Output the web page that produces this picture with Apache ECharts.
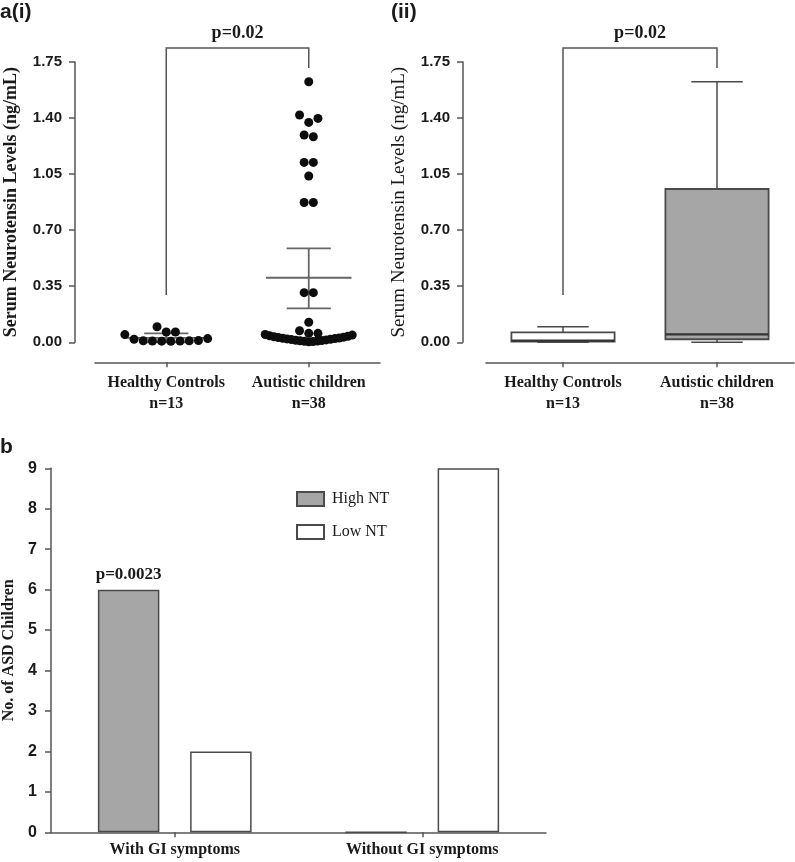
<!DOCTYPE html>
<html>
<head>
<meta charset="utf-8">
<script src="https://cdn.jsdelivr.net/npm/echarts@6/dist/echarts.min.js"></script>
<style>html,body{margin:0;padding:0;background:#fff}#c{width:795px;height:862px}</style>
</head>
<body>
<div id="c"></div>
<script>
// ---------- data ----------
const groupNames = ['Healthy Controls', 'Autistic children'];
const groupN = ['n=13', 'n=38'];
const ntAxisMin = 0, ntAxisMax = 1.75, ntAxisStep = 0.35;
const hcValues = [0.006, 0.007, 0.008, 0.008, 0.009, 0.010, 0.011, 0.019, 0.023, 0.048, 0.064, 0.064, 0.097];
const asdValues = [1.627, 1.419, 1.398, 1.373, 1.294, 1.283, 1.123, 1.123, 1.038, 0.873, 0.873, 0.310, 0.310,
  0.125, 0.072, 0.056, 0.056,
  0.049, 0.045, 0.041, 0.038, 0.035, 0.032, 0.030, 0.027, 0.025, 0.023, 0.021,
  0.019, 0.017, 0.015, 0.013, 0.011, 0.010, 0.008, 0.006, 0.005, 0.003];
const meanValues = [0.028, 0.403];
const semLower = [0.000, 0.212];
const semUpper = [0.056, 0.587];
// box: min, Q1, median, Q3, max
const boxHC = [0.000, 0.005, 0.010, 0.062, 0.097];
const boxASD = [0.000, 0.019, 0.050, 0.957, 1.627];
const pLabelA = 'p=0.02';
const bracketEnds = [0.295, 1.837, 1.712]; // left end, top, right end
const giCategories = ['With GI symptoms', 'Without GI symptoms'];
const highNT = [6, 0];
const lowNT = [2, 9];
const pLabelB = 'p=0.0023';
const countAxisMax = 9;

// ---------- styles ----------
const SERIF = '"Liberation Serif", "Times New Roman", serif';
const SANS = '"Liberation Sans", Arial, sans-serif';
const TXT = '#1a1a1a';
const AX = '#555';
const GRAY = '#a6a6a6';

// ---------- dot-plot layout (symmetric spreading inside value clusters) ----------
function swarm(values, spanLimit, gapLimit, step, maxWidth) {
  const order = values.map((v, i) => i).sort((a, b) => values[a] - values[b]);
  const clusters = []; let cur = [];
  order.forEach(i => {
    if (cur.length) {
      const first = values[cur[0]], last = values[cur[cur.length - 1]];
      if (values[i] - first > spanLimit || values[i] - last > gapLimit) { clusters.push(cur); cur = []; }
    }
    cur.push(i);
  });
  if (cur.length) clusters.push(cur);
  const off = new Array(values.length).fill(0);
  clusters.forEach(c => {
    const n = c.length;
    const s = n > 1 ? Math.min(step, maxWidth / (n - 1)) : 0;
    const slots = [];
    for (let k = 0; k < n; k++) slots.push(k - (n - 1) / 2);
    slots.sort((a, b) => Math.abs(a) - Math.abs(b) || b - a);
    c.forEach((idx, j) => { off[idx] = slots[j] * s; });
  });
  return off;
}
const offHC = swarm(hcValues, 0.05, 0.04, 9.2, 87);
const offASD = swarm(asdValues, 0.05, 0.04, 9.2, 87);
const dotData = hcValues.map((v, i) => ({ value: [0, v], symbolOffset: [offHC[i], 0] }))
  .concat(asdValues.map((v, i) => ({ value: [1, v], symbolOffset: [offASD[i], 0] })));

const meanData = meanValues.map((m, i) => [i, m, semLower[i], semUpper[i]]);
const boxData = [[0].concat(boxHC), [1].concat(boxASD)];
const boxFills = ['#ffffff', GRAY];
const bracketData = [[0, bracketEnds[1], 1, bracketEnds[0], bracketEnds[2]]];

// ---------- render helpers ----------
function renderMean(params, api) {
  const x = api.value(0);
  const band = api.size([1, 0])[0];
  const pm = api.coord([x, api.value(1)]);
  const pl = api.coord([x, api.value(2)]);
  const ph = api.coord([x, api.value(3)]);
  const mw = band * 0.3, cw = band * 0.155;
  const st = { stroke: '#666', lineWidth: 1.8 };
  return { type: 'group', children: [
    { type: 'line', shape: { x1: pm[0] - mw, y1: pm[1], x2: pm[0] + mw, y2: pm[1] }, style: st },
    { type: 'line', shape: { x1: pl[0], y1: pl[1], x2: ph[0], y2: ph[1] }, style: st },
    { type: 'line', shape: { x1: ph[0] - cw, y1: ph[1], x2: ph[0] + cw, y2: ph[1] }, style: st },
    { type: 'line', shape: { x1: pl[0] - cw, y1: pl[1], x2: pl[0] + cw, y2: pl[1] }, style: st }
  ] };
}
function renderBox(params, api) {
  const x = api.value(0);
  const band = api.size([1, 0])[0];
  const bw = band * 0.335, cw = band * 0.167;
  const pMin = api.coord([x, api.value(1)]), pQ1 = api.coord([x, api.value(2)]);
  const pMed = api.coord([x, api.value(3)]), pQ3 = api.coord([x, api.value(4)]);
  const pMax = api.coord([x, api.value(5)]);
  const cx = pMin[0];
  const st = { stroke: '#4a4a4a', lineWidth: 1.5 };
  return { type: 'group', children: [
    { type: 'line', shape: { x1: cx, y1: pQ3[1], x2: cx, y2: pMax[1] }, style: st },
    { type: 'line', shape: { x1: cx, y1: pQ1[1], x2: cx, y2: pMin[1] }, style: st },
    { type: 'line', shape: { x1: cx - cw, y1: pMax[1], x2: cx + cw, y2: pMax[1] }, style: st },
    { type: 'line', shape: { x1: cx - cw, y1: pMin[1], x2: cx + cw, y2: pMin[1] }, style: st },
    { type: 'rect', shape: { x: cx - bw, y: pQ3[1], width: bw * 2, height: pQ1[1] - pQ3[1] },
      style: { fill: boxFills[params.dataIndex], stroke: '#4a4a4a', lineWidth: 1.8 } },
    { type: 'line', shape: { x1: cx - bw, y1: pMed[1], x2: cx + bw, y2: pMed[1] }, style: { stroke: '#333', lineWidth: 2.2 } }
  ] };
}
function renderBracket(params, api) {
  const top = api.value(1);
  const pL = api.coord([api.value(0), api.value(3)]);
  const pLT = api.coord([api.value(0), top]);
  const pR = api.coord([api.value(2), api.value(4)]);
  const pRT = api.coord([api.value(2), top]);
  return { type: 'group', children: [
    { type: 'polyline', shape: { points: [pL, pLT, pRT, pR] }, style: { stroke: AX, lineWidth: 1.5, fill: null } },
    { type: 'text', x: (pLT[0] + pRT[0]) / 2, y: pLT[1] - 15,
      style: { text: pLabelA, fill: TXT, font: 'bold 18px ' + SERIF, align: 'center', verticalAlign: 'middle' } }
  ] };
}

function ntYAxis(gridIndex, offset, nameGap, nameWeight, nameSize) {
  return {
    type: 'value', gridIndex: gridIndex, min: ntAxisMin, max: ntAxisMax, interval: ntAxisStep, offset: offset,
    name: 'Serum Neurotensin Levels (ng/mL)', nameLocation: 'middle', nameGap: nameGap, nameRotate: 90,
    nameTextStyle: { fontFamily: SERIF, fontWeight: nameWeight, fontSize: nameSize, color: TXT },
    axisLine: { show: true, onZero: false, lineStyle: { color: AX, width: 1.5 } },
    axisTick: { show: true, inside: false, length: 6, lineStyle: { color: AX, width: 1.5 } },
    axisLabel: { margin: 13, fontFamily: SANS, fontWeight: 'bold', fontSize: 15, color: TXT,
      formatter: v => v.toFixed(2) },
    splitLine: { show: false }
  };
}
function groupXAxis(gridIndex, offset) {
  return {
    type: 'category', gridIndex: gridIndex, data: groupNames, offset: offset,
    axisLine: { show: true, onZero: false, lineStyle: { color: AX, width: 1.5 } },
    axisTick: { show: true, alignWithLabel: true, length: 5, lineStyle: { color: AX, width: 1.5 } },
    axisLabel: { interval: 0, hideOverlap: false, margin: 10, fontFamily: SERIF, fontWeight: 'bold', fontSize: 16,
      lineHeight: 21, color: TXT, formatter: (v, i) => v + '\n' + groupN[i] },
    splitLine: { show: false }
  };
}

const chart = echarts.init(document.getElementById('c'), null, { renderer: 'canvas' });
chart.setOption({
  backgroundColor: '#fff',
  animation: false,
  textStyle: { fontFamily: SERIF },
  graphic: [
    { type: 'text', left: 0, top: 2, style: { text: 'a(i)', font: 'bold 21px ' + SANS, fill: TXT } },
    { type: 'text', left: 391, top: 2, style: { text: '(ii)', font: 'bold 21px ' + SANS, fill: TXT } },
    { type: 'text', left: 0, top: 437, style: { text: 'b', font: 'bold 21px ' + SANS, fill: TXT } }
  ],
  grid: [
    { left: 95, top: 62, width: 285, height: 280.3, outerBoundsMode: 'none' },
    { left: 486, top: 62, width: 308, height: 280.3, outerBoundsMode: 'none' },
    { left: 51, top: 468.3, width: 495, height: 364, outerBoundsMode: 'none' }
  ],
  legend: {
    data: ['High NT', 'Low NT'], orient: 'vertical', left: 296, top: 491, padding: 0,
    itemWidth: 27, itemHeight: 14, itemGap: 17, icon: 'rect', selectedMode: false,
    textStyle: { fontFamily: SERIF, fontSize: 16, color: TXT, lineHeight: 16, padding: [0, 0, 0, 3] }
  },
  xAxis: [
    groupXAxis(0, 20),
    groupXAxis(1, 20),
    {
      type: 'category', gridIndex: 2, data: giCategories,
      axisLine: { show: true, onZero: false, lineStyle: { color: AX, width: 1.5 } },
      axisTick: { show: true, alignWithLabel: true, length: 5, lineStyle: { color: AX, width: 1.5 } },
      axisLabel: { interval: 0, margin: 10, fontFamily: SERIF, fontWeight: 'bold', fontSize: 16, color: TXT },
      splitLine: { show: false }
    }
  ],
  yAxis: [
    ntYAxis(0, 20, 55, 'bold', 18),
    ntYAxis(1, 23, 54, 'normal', 19),
    {
      type: 'value', gridIndex: 2, min: 0, max: countAxisMax, interval: 1,
      name: 'No. of ASD Children', nameLocation: 'middle', nameGap: 31, nameRotate: 90,
      nameTextStyle: { fontFamily: SERIF, fontWeight: 'bold', fontSize: 16, color: TXT },
      axisLine: { show: true, onZero: false, lineStyle: { color: AX, width: 1.5 } },
      axisTick: { show: true, inside: false, length: 6, lineStyle: { color: AX, width: 1.5 } },
      axisLabel: { margin: 14, fontFamily: SANS, fontWeight: 'bold', fontSize: 16, color: TXT },
      splitLine: { show: false }
    }
  ],
  series: [
    { type: 'custom', name: 'meanSem', xAxisIndex: 0, yAxisIndex: 0, data: meanData,
      encode: { x: 0, y: 1 }, renderItem: renderMean, z: 2 },
    { type: 'scatter', name: 'dots', xAxisIndex: 0, yAxisIndex: 0, data: dotData,
      symbol: 'circle', symbolSize: 9, itemStyle: { color: '#0d0d0d', opacity: 1 }, z: 3, clip: false },
    { type: 'custom', name: 'bracketA', xAxisIndex: 0, yAxisIndex: 0, data: bracketData,
      encode: { x: 0, y: 1 }, renderItem: renderBracket, clip: false },
    { type: 'custom', name: 'box', xAxisIndex: 1, yAxisIndex: 1, data: boxData,
      encode: { x: 0, y: 1 }, renderItem: renderBox },
    { type: 'custom', name: 'bracketB', xAxisIndex: 1, yAxisIndex: 1, data: bracketData,
      encode: { x: 0, y: 1 }, renderItem: renderBracket, clip: false },
    { type: 'bar', name: 'High NT', xAxisIndex: 2, yAxisIndex: 2, barWidth: 61.5, barGap: '50%',
      data: highNT.map((v, i) => i === 0 ? { value: v, label: { show: true, position: 'top', distance: 7,
        formatter: pLabelB, fontFamily: SERIF, fontWeight: 'bold', fontSize: 17, color: TXT } } : v),
      itemStyle: { color: GRAY, borderColor: '#4a4a4a', borderWidth: 1.5 } },
    { type: 'bar', name: 'Low NT', xAxisIndex: 2, yAxisIndex: 2, barWidth: 61.5, barGap: '50%',
      data: lowNT, itemStyle: { color: '#ffffff', borderColor: '#4a4a4a', borderWidth: 1.5 } }
  ]
});
</script>
</body>
</html>
